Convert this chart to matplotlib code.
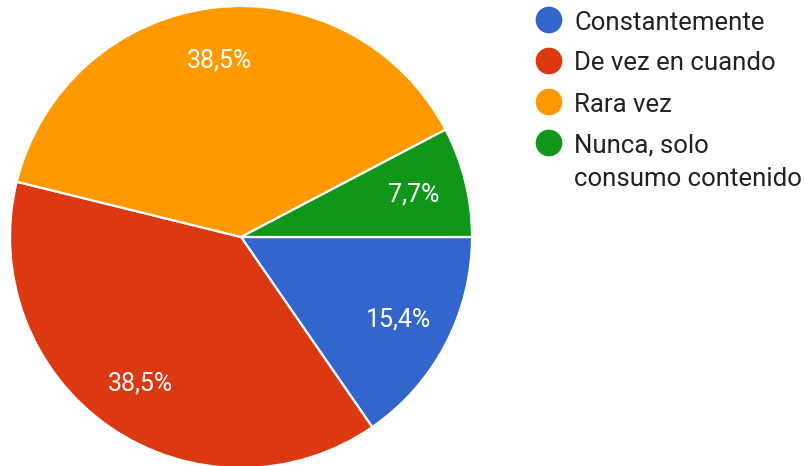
import matplotlib

matplotlib.use("Agg")
import matplotlib.pyplot as plt

plt.rcParams["font.family"] = ["Roboto", "DejaVu Sans"]

# Survey answers, drawn clockwise from 3 o'clock
categories = ["Constantemente", "De vez en cuando", "Rara vez", "Nunca, solo\nconsumo contenido"]
shares = [15.4, 38.5, 38.5, 7.7]
colors = ["#3366cc", "#dc3912", "#ff9900", "#109618"]

W, H = 805, 466
fig = plt.figure(figsize=(W / 100, H / 100), dpi=100)
fig.patch.set_facecolor("white")

# Pie axes placed in pixel terms: centre (241, 237), radius 231
cx, cy, r = 241, 237, 231
axpie = fig.add_axes([(cx - r) / W, (H - cy - r) / H, 2 * r / W, 2 * r / H])
wedges, _, autotexts = axpie.pie(
    shares,
    colors=colors,
    startangle=0,
    counterclock=False,
    autopct=lambda p: f"{p:.1f}%".replace(".", ","),
    pctdistance=0.77,
    wedgeprops=dict(edgecolor="white", linewidth=1.6),
    textprops=dict(color="white", fontsize=18),
)
axpie.set_xlim(-1, 1)
axpie.set_ylim(-1, 1)
axpie.set_aspect("equal")
axpie.axis("off")

# Legend drawn in figure pixel coordinates
axleg = fig.add_axes([0, 0, 1, 1])
axleg.set_xlim(0, W)
axleg.set_ylim(H, 0)
axleg.axis("off")
row_y = 20
for cat, col in zip(categories, colors):
    axleg.scatter([549], [row_y], s=370, color=col, edgecolors="none")
    for i, line in enumerate(cat.split("\n")):
        axleg.text(574, row_y + i * 34, line, fontsize=18.5, color="#222222",
                   va="center_baseline", ha="left")
    row_y += 41

fig.savefig("out.png", dpi=100)
